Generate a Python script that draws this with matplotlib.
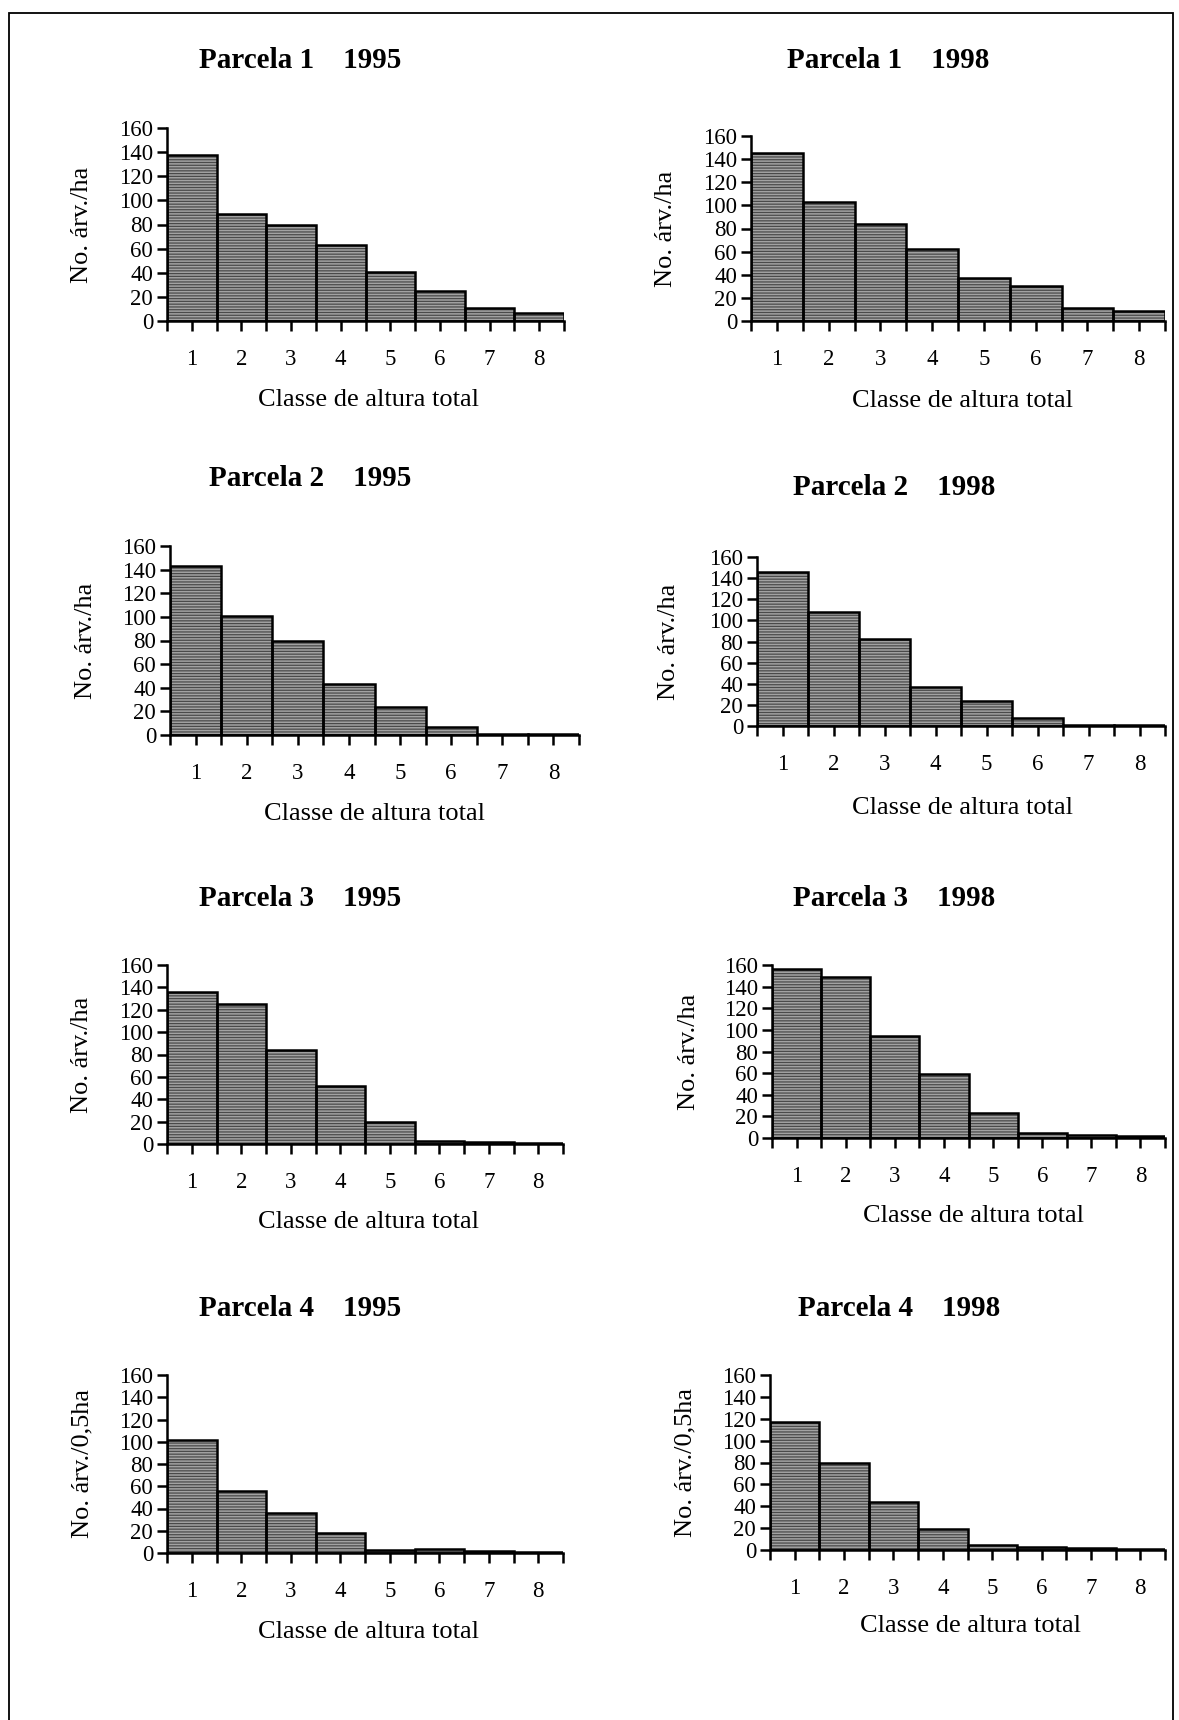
import numpy as np
import matplotlib.pyplot as plt
from matplotlib.patches import Rectangle

plt.rcParams['font.family'] = ['Liberation Serif', 'DejaVu Serif']
plt.rcParams['hatch.linewidth'] = 0.9

W, H = 1179, 1720

classes = [1, 2, 3, 4, 5, 6, 7, 8]
class_labels = ['1', '2', '3', '4', '5', '6', '7', '8']
y_ticks = [0, 20, 40, 60, 80, 100, 120, 140, 160]

titles = ['Parcela 1    1995', 'Parcela 1    1998',
          'Parcela 2    1995', 'Parcela 2    1998',
          'Parcela 3    1995', 'Parcela 3    1998',
          'Parcela 4    1995', 'Parcela 4    1998']
ylabels = ['No. árv./ha'] * 6 + ['No. árv./0,5ha'] * 2
xlabel = 'Classe de altura total'

p1_1995 = [138, 89, 80, 63, 41, 25, 11, 7]
p1_1998 = [145, 103, 84, 62, 37, 30, 11, 9]
p2_1995 = [143, 101, 80, 43, 24, 7, 1, 0.5]
p2_1998 = [146, 108, 82, 37, 24, 8, 1, 0.5]
p3_1995 = [136, 125, 84, 52, 20, 3, 2, 1]
p3_1998 = [156, 149, 94, 59, 23, 5, 3, 2]
p4_1995 = [102, 56, 36, 18, 3, 3.5, 2, 1]
p4_1998 = [117, 80, 44, 19, 5, 3, 1.5, 1]
series = [p1_1995, p1_1998, p2_1995, p2_1998, p3_1995, p3_1998, p4_1995, p4_1998]

# layout in pixels: axes box (left, right, top, bottom), title xy, xlabel xy, ylabel x
boxes = [(167, 564, 128, 321), (751, 1165, 136, 321),
         (170, 579, 546, 735), (757, 1165, 557, 726),
         (167, 563, 965, 1144), (772, 1165, 965, 1138),
         (167, 563, 1375, 1553), (770, 1165, 1375, 1550)]
title_xy = [(300, 60), (888, 60), (310, 479), (894, 488),
            (300, 898), (894, 898), (300, 1308), (899, 1308)]
xlab_xy = [(369, 400), (962, 401), (375, 814), (962, 808),
           (369, 1222), (974, 1216), (369, 1632), (971, 1626)]
ylab_x = [82, 666, 86, 669, 82, 689, 82, 685]

fig = plt.figure(figsize=(W / 100, H / 100), dpi=100)

def fx(px):
    return px / W

def fy(py):
    return 1 - py / H

for i, vals in enumerate(series):
    l, r, t, b = boxes[i]
    ax = fig.add_axes([fx(l), fy(b), (r - l) / W, (b - t) / H])
    ax.bar(classes, vals, width=1.0, color='#a2a2a2', edgecolor='#4a4a4a',
           hatch='------', linewidth=0)
    ax.bar(classes, vals, width=1.0, fill=False, edgecolor='black', linewidth=1.8)
    ax.set_xlim(0.5, 8.5)
    ax.set_ylim(0, 160)
    ax.spines['top'].set_visible(False)
    ax.spines['right'].set_visible(False)
    ax.spines['left'].set_linewidth(1.8)
    ax.spines['bottom'].set_linewidth(1.8)
    ax.set_xticks(classes)
    ax.set_xticklabels(class_labels, fontsize=16.5)
    ax.set_xticks(np.arange(0.5, 9, 1.0), minor=True)
    ax.set_yticks(y_ticks)
    ax.set_yticklabels([str(v) for v in y_ticks], fontsize=16.5)
    ax.tick_params(axis='x', which='both', direction='out', length=7, width=1.8, pad=13)
    ax.tick_params(axis='y', direction='out', length=7, width=1.8, pad=3)
    ax.set_facecolor('none')

    tx, ty = title_xy[i]
    fig.text(fx(tx), fy(ty), titles[i], ha='center', va='center',
             fontsize=21, fontweight='bold')
    lx, ly = xlab_xy[i]
    fig.text(fx(lx), fy(ly), xlabel, ha='center', va='center', fontsize=19)
    fig.text(fx(ylab_x[i]), fy((t + b) / 2), ylabels[i], ha='center', va='center',
             rotation=90, fontsize=19)

# outer frame
fig.patches.append(Rectangle((fx(9), fy(1730)), fx(1173) - fx(9), fy(13) - fy(1730),
                             transform=fig.transFigure, fill=False,
                             edgecolor='black', linewidth=1.3))

fig.savefig('out.png', dpi=100)
